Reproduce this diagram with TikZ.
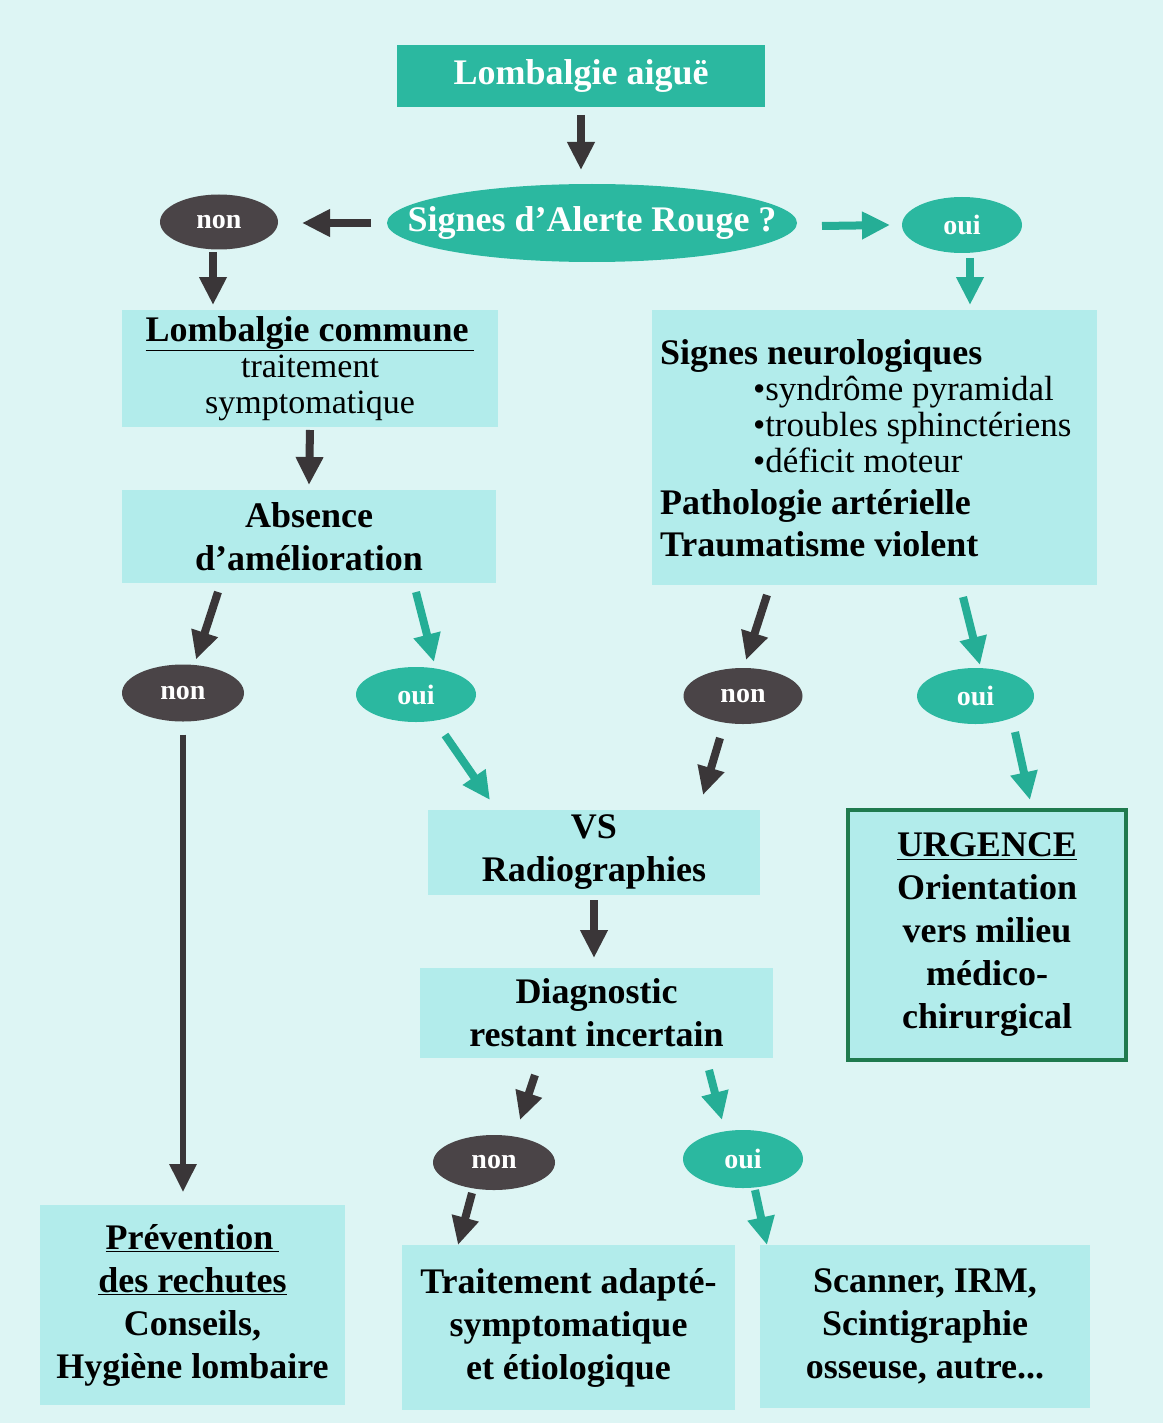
\documentclass[tikz,border=0pt]{standalone}
\usepackage{fontspec}
\setmainfont{Liberation Serif}
\usetikzlibrary{arrows.meta,shapes.geometric}
\definecolor{bg}{HTML}{DDF5F4}
\definecolor{boxc}{HTML}{B2ECEB}
\definecolor{teal1}{HTML}{2BB8A0}
\definecolor{darkov}{HTML}{4A4447}
\definecolor{arrdark}{HTML}{3A3638}
\definecolor{arrteal}{HTML}{25AE96}
\definecolor{ugreen}{HTML}{1F7A4E}
\begin{document}
\begin{tikzpicture}[x=1pt,y=-1pt,
 every node/.style={inner sep=0pt, outer sep=0pt},
 box/.style={rectangle, fill=boxc, align=center, font=\bfseries\fontsize{36}{43}\selectfont},
 tealbox/.style={rectangle, fill=teal1, text=white, font=\bfseries\fontsize{36}{40}\selectfont},
 ovT/.style={ellipse, fill=teal1, text=white, font=\bfseries\fontsize{28}{30}\selectfont},
 ovD/.style={ellipse, fill=darkov, text=white, font=\bfseries\fontsize{28}{30}\selectfont},
 darr/.style={draw=arrdark, line width=8pt, -{Triangle[length=28pt,width=26pt]}},
 tarr/.style={draw=arrteal, line width=8pt, -{Triangle[length=28pt,width=26pt]}},
]
\fill[bg] (0,0) rectangle (1163,1423);
\useasboundingbox (0,0) rectangle (1163,1423);

\node[tealbox, minimum width=368pt, minimum height=62pt] (aigue) at (581,76) {Lombalgie aiguë};
\node[ovT, inner xsep=-40pt, minimum width=410pt, minimum height=78pt, font=\bfseries\fontsize{36}{40}\selectfont] (alerte) at (592,223) {Signes d’Alerte Rouge ?};
\node[ovD, minimum width=118pt, minimum height=55pt] (non1) at (219,222) {non};
\node[ovT, minimum width=120pt, minimum height=56pt] (oui1) at (962,225) {oui};

\node[box, minimum width=376pt, minimum height=117pt, font=\bfseries\fontsize{36}{36}\selectfont] (commune) at (310,368.5)
  {\underline{Lombalgie commune\,}\\ {\mdseries\fontsize{34}{36}\selectfont traitement}\\ {\mdseries\fontsize{34}{36}\selectfont symptomatique}};
\node[box, minimum width=374pt, minimum height=93pt] (absence) at (309,536.5) {Absence\\ d’amélioration};
\node[box, minimum width=445pt, minimum height=275pt] (neuro) at (874.5,447.5) {};
\node[anchor=west, align=left, font=\bfseries\fontsize{36}{36}\selectfont] (neurotxt) at (660,448)
  {Signes neurologiques\\
   {\mdseries\fontsize{35}{36}\selectfont\hspace*{93pt}•syndrôme pyramidal}\\
   {\mdseries\fontsize{35}{36}\selectfont\hspace*{93pt}•troubles sphinctériens}\\
   {\mdseries\fontsize{35}{36}\selectfont\hspace*{93pt}•déficit moteur}\\[6pt]
   Pathologie artérielle\\[6pt]
   Traumatisme violent};

\node[ovD, minimum width=122pt, minimum height=57pt] (non2) at (183,693) {non};
\node[ovT, minimum width=120pt, minimum height=55pt] (oui2) at (416,694.5) {oui};
\node[ovD, minimum width=119pt, minimum height=56pt] (non3) at (743,696) {non};
\node[ovT, minimum width=117pt, minimum height=56pt] (oui3) at (975.5,696) {oui};

\node[box, minimum width=332pt, minimum height=85pt] (vs) at (594,852.5) {VS\\ Radiographies};
\node[box, draw=ugreen, line width=4pt, minimum width=278pt, minimum height=250pt] (urg) at (987,935)
  {\underline{URGENCE}\\ Orientation\\ vers milieu\\ médico-\\ chirurgical};
\node[box, minimum width=353pt, minimum height=90pt] (diag) at (596.5,1013) {Diagnostic\\ restant incertain};

\node[ovD, minimum width=122pt, minimum height=55pt] (non4) at (494,1162.5) {non};
\node[ovT, minimum width=120pt, minimum height=58pt] (oui4) at (743,1159) {oui};

\node[box, minimum width=333pt, minimum height=165pt] (trait) at (568.5,1327.5) {Traitement adapté-\\ symptomatique\\ et étiologique};
\node[box, minimum width=330pt, minimum height=163pt] (scan) at (925,1326.5) {Scanner, IRM,\\ Scintigraphie\\ osseuse, autre...};
\node[box, minimum width=305pt, minimum height=200pt] (prev) at (192.5,1305) {\underline{Prévention\,}\\ \underline{des rechutes}\\ Conseils,\\ Hygiène lombaire};

% arrows
\draw[darr] ([yshift=-8pt]aigue.south) -- ([xshift=-11pt,yshift=14pt]alerte.north);
\draw[darr] ([xshift=-16pt]alerte.west) -- ([xshift=24pt,yshift=-1pt]non1.east);
\draw[tarr] ([xshift=25pt,yshift=-3pt]alerte.east) -- ([xshift=-12pt]oui1.west);
\draw[darr] ([xshift=-6pt,yshift=-3pt]non1.south) -- ([xshift=-97pt,yshift=5pt]commune.north);
\draw[tarr] ([xshift=8pt,yshift=-5pt]oui1.south) -- ([xshift=95.5pt,yshift=5pt]neuro.north);
\draw[darr] ([yshift=-3pt]commune.south) -- ([yshift=5pt]absence.north);
\draw[darr] ([xshift=-91pt,yshift=-9pt]absence.south) -- ([xshift=13pt,yshift=5pt]non2.north);
\draw[tarr] ([xshift=107pt,yshift=-9pt]absence.south) -- ([xshift=18pt,yshift=5pt]oui2.north);
\draw[darr] ([xshift=-107.5pt,yshift=-10pt]neuro.south) -- ([xshift=3pt,yshift=8pt]non3.north);
\draw[tarr] ([xshift=88.5pt,yshift=-12pt]neuro.south) -- ([xshift=4.5pt,yshift=3pt]oui3.north);
\draw[darr, line width=6pt] ([yshift=-13pt]non2.south) -- ([xshift=-9.5pt,yshift=13pt]prev.north);
\draw[tarr] ([xshift=29pt,yshift=-13pt]oui2.south) -- ([xshift=-104pt,yshift=10pt]vs.north);
\draw[darr] ([xshift=-23pt,yshift=-14pt]non3.south) -- ([xshift=109pt,yshift=15pt]vs.north);
\draw[tarr] ([xshift=39.5pt,yshift=-8pt]oui3.south) -- ([xshift=43pt,yshift=10pt]urg.north);
\draw[darr] ([yshift=-5pt]vs.south) -- ([xshift=-2.5pt,yshift=10pt]diag.north);
\draw[darr] ([xshift=-61.5pt,yshift=-17pt]diag.south) -- ([xshift=26pt,yshift=15pt]non4.north);
\draw[tarr] ([xshift=112.5pt,yshift=-12pt]diag.south) -- ([xshift=-21pt,yshift=10pt]oui4.north);
\draw[darr] ([xshift=-22pt,yshift=-3pt]non4.south) -- ([xshift=-110.5pt]trait.north);
\draw[tarr] ([xshift=12pt,yshift=-2pt]oui4.south) -- ([xshift=-158pt]scan.north);
\end{tikzpicture}
\end{document}
